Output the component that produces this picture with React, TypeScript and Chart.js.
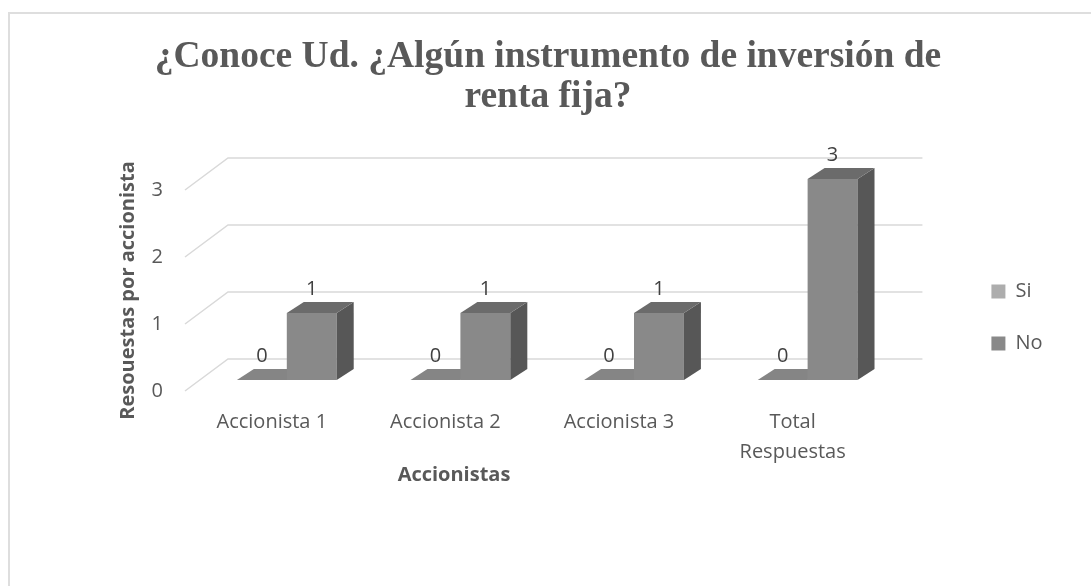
import React, { useEffect, useRef } from "react";
import { Chart, registerables } from "chart.js";

Chart.register(...registerables);

// ---- data ----
const titleLines = ["¿Conoce Ud. ¿Algún instrumento de inversión de", "renta fija?"];
const categories: (string | string[])[] = ["Accionista 1", "Accionista 2", "Accionista 3", ["Total", "Respuestas"]];
const seriesNames = ["Si", "No"];
const siValues = [0, 0, 0, 0];
const noValues = [1, 1, 1, 3];
const yMin = 0;
const yMax = 3;
const yStep = 1;
const yTitle = "Resouestas por accionista";
const xTitle = "Accionistas";

// ---- styles ----
const TEXT = "#595959";
const LABEL_TEXT = "#404040";
const GRID = "#d9d9d9";
const FONT = "'Open Sans', 'Liberation Sans', sans-serif";
const LEGEND_COLORS = ["#adadad", "#898989"];
const FACES = [
  { front: "#adadad", top: "#858585", side: "#6e6e6e" },
  { front: "#898989", top: "#6b6b6b", side: "#575757" },
];
const WALL = { x: 43, y: -32 };
const BAR_FRONT = { x: 15, y: -11 };
const BAR_DEPTH = { x: 17, y: -11 };

const threeD = {
  id: "threeD",
  beforeDatasetsDraw(chart: any) {
    const { ctx, chartArea, scales } = chart;
    const ys = scales.y;
    ctx.save();
    // walls / gridlines
    ctx.strokeStyle = GRID;
    ctx.lineWidth = 1.5;
    for (const t of ys.ticks) {
      const py = ys.getPixelForValue(t.value);
      ctx.beginPath();
      ctx.moveTo(chartArea.left, py);
      ctx.lineTo(chartArea.left + WALL.x, py + WALL.y);
      ctx.lineTo(chartArea.right + WALL.x, py + WALL.y);
      ctx.stroke();
    }
    // bars
    const n = chart.data.labels.length;
    const metas = chart.data.datasets.map((_: any, i: number) => chart.getDatasetMeta(i));
    const labels: { x: number; y: number; text: string }[] = [];
    for (let j = 0; j < n; j++) {
      metas.forEach((meta: any, i: number) => {
        const el = meta.data[j];
        const p = el.getProps(["x", "y", "base", "width"], true);
        const l = p.x - p.width / 2 + BAR_FRONT.x;
        const r = p.x + p.width / 2 + BAR_FRONT.x;
        const t = p.y + BAR_FRONT.y;
        const b = p.base + BAR_FRONT.y;
        const f = FACES[i];
        if (b - t > 0.5) {
          ctx.fillStyle = f.front;
          ctx.fillRect(l, t, r - l, b - t);
          ctx.fillStyle = f.side;
          ctx.beginPath();
          ctx.moveTo(r, t);
          ctx.lineTo(r + BAR_DEPTH.x, t + BAR_DEPTH.y);
          ctx.lineTo(r + BAR_DEPTH.x, b + BAR_DEPTH.y);
          ctx.lineTo(r, b);
          ctx.closePath();
          ctx.fill();
        }
        ctx.fillStyle = f.top;
        ctx.beginPath();
        ctx.moveTo(l, t);
        ctx.lineTo(r, t);
        ctx.lineTo(r + BAR_DEPTH.x, t + BAR_DEPTH.y);
        ctx.lineTo(l + BAR_DEPTH.x, t + BAR_DEPTH.y);
        ctx.closePath();
        ctx.fill();
        const v = chart.data.datasets[i].data[j];
        labels.push({ x: (l + r) / 2, y: t + BAR_DEPTH.y - 13, text: String(v) });
      });
    }
    ctx.fillStyle = LABEL_TEXT;
    ctx.font = `20px ${FONT}`;
    ctx.textAlign = "center";
    ctx.textBaseline = "middle";
    for (const lb of labels) ctx.fillText(lb.text, lb.x, lb.y);
    ctx.restore();
    return false;
  },
  afterDraw(chart: any) {
    const { ctx } = chart;
    ctx.save();
    ctx.fillStyle = TEXT;
    ctx.font = `bold 20px ${FONT}`;
    ctx.textAlign = "center";
    ctx.textBaseline = "middle";
    ctx.fillText(xTitle, 454, 475);
    ctx.restore();
  },
};

export default function App() {
  const ref = useRef<HTMLCanvasElement>(null);
  useEffect(() => {
    if (!ref.current) return;
    const chart = new Chart(ref.current, {
      type: "bar",
      data: {
        labels: categories,
        datasets: [
          { label: seriesNames[0], data: siValues, backgroundColor: LEGEND_COLORS[0] },
          { label: seriesNames[1], data: noValues, backgroundColor: LEGEND_COLORS[1] },
        ],
      },
      options: {
        animation: false,
        responsive: false,
        layout: { padding: { left: 43.5, right: 38.5, top: 0, bottom: 99 } },
        datasets: { bar: { categoryPercentage: 0.575, barPercentage: 1 } },
        plugins: {
          title: {
            display: true,
            text: titleLines,
            color: TEXT,
            font: { family: "'Liberation Serif', 'Times New Roman', serif", weight: "bold", size: 37.5, lineHeight: 1.08 },
            padding: { top: 36.75, bottom: 72.25 },
          },
          legend: {
            position: "right",
            fullSize: false,
            align: "center",
            title: { display: true, text: "", font: { size: 10, lineHeight: 1 }, padding: { top: 44, bottom: 0 } },
            labels: {
              boxWidth: 14,
              boxHeight: 14,
              padding: 32,
              color: TEXT,
              font: { family: FONT, size: 20 },
            },
          },
          tooltip: { enabled: false },
        },
        scales: {
          x: {
            grid: { display: false, drawTicks: false },
            border: { display: false },
            ticks: { color: TEXT, padding: 16, font: { family: FONT, size: 20, lineHeight: 1.5 }, maxRotation: 0, autoSkip: false },
            afterFit: (s: any) => { s.height = 96; },
          },
          y: {
            min: yMin,
            max: yMax,
            grid: { display: false, drawTicks: false },
            border: { display: false },
            ticks: { stepSize: yStep, color: TEXT, padding: 22, font: { family: FONT, size: 20 } },
            title: {
              display: true,
              text: yTitle,
              color: TEXT,
              font: { family: FONT, size: 20, weight: "bold", lineHeight: 1.2 },
              padding: { top: 72.5, bottom: 0 },
            },
            afterFit: (s: any) => { s.width = 141.5; },
          },
          gap: {
            type: "linear",
            position: "right",
            display: true,
            grid: { display: false, drawTicks: false },
            border: { display: false },
            ticks: { display: false },
            afterFit: (s: any) => { s.width = 80; },
          },
        },
      } as any,
      plugins: [threeD],
    });
    return () => chart.destroy();
  }, []);

  return (
    <div>
      <div
        style={{
          position: "fixed",
          left: 8,
          top: 12,
          width: 1100,
          height: 600,
          borderLeft: "2px solid #dedede",
          borderTop: "2px solid #dedede",
          boxSizing: "border-box",
        }}
      />
      <canvas
        ref={ref}
        width={1091}
        height={586}
        style={{ position: "fixed", left: 0, top: 0, width: 1091, height: 586, display: "block" }}
      />
    </div>
  );
}
